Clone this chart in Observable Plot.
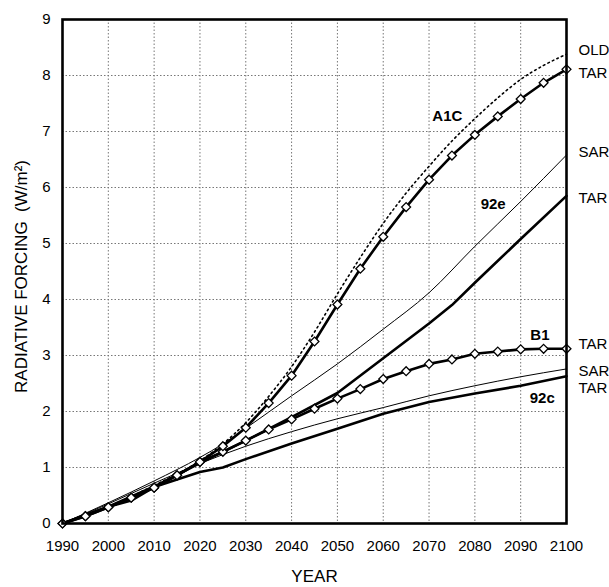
<!DOCTYPE html>
<html>
<head>
<meta charset="utf-8">
<script src="https://cdn.jsdelivr.net/npm/d3@7"></script>
<script src="https://cdn.jsdelivr.net/npm/@observablehq/plot@0.6"></script>
<style>
  html, body { margin: 0; padding: 0; background: #fff; }
  svg { display: block; }
</style>
</head>
<body>
<div id="chart"></div>
<script>
// ---- data ----
const years5 = [1990,1995,2000,2005,2010,2015,2020,2025,2030,2035,2040,2045,2050,2055,2060,2065,2070,2075,2080,2085,2090,2095,2100];
const a1cTar = [0,0.13,0.29,0.46,0.64,0.86,1.1,1.38,1.71,2.15,2.64,3.25,3.91,4.55,5.12,5.65,6.14,6.57,6.94,7.27,7.58,7.87,8.11];
const b1Tar  = [0,0.13,0.29,0.46,0.64,0.86,1.1,1.28,1.48,1.68,1.86,2.05,2.23,2.4,2.58,2.72,2.85,2.93,3.03,3.07,3.11,3.12,3.12];

const oldYears = [1990,2000,2010,2020,2025,2030,2035,2040,2045,2050,2055,2060,2065,2070,2075,2080,2085,2090,2095,2100];
const a1cOld   = [0,0.3,0.68,1.12,1.42,1.8,2.27,2.8,3.42,4.1,4.75,5.36,5.9,6.38,6.83,7.23,7.6,7.93,8.18,8.38];

const e92SarYears = [1990,2000,2010,2020,2025,2030,2040,2050,2060,2070,2080,2090,2100];
const e92Sar      = [0,0.37,0.76,1.18,1.42,1.7,2.28,2.85,3.47,4.12,4.95,5.75,6.58];

const e92TarYears = [1990,2000,2010,2020,2030,2040,2050,2060,2070,2075,2080,2090,2100];
const e92Tar      = [0,0.3,0.66,1.08,1.48,1.9,2.33,2.95,3.57,3.9,4.3,5.08,5.85];

const c92SarYears = [1990,2000,2010,2020,2030,2040,2050,2060,2070,2080,2090,2100];
const c92Sar      = [0,0.35,0.72,1.07,1.38,1.64,1.87,2.07,2.28,2.46,2.62,2.76];

const c92TarYears = [1990,2000,2005,2010,2020,2025,2030,2040,2050,2060,2070,2080,2090,2100];
const c92Tar      = [0,0.3,0.41,0.65,0.92,1.0,1.15,1.43,1.69,1.96,2.17,2.32,2.46,2.63];

const xTicks = [1990,2000,2010,2020,2030,2040,2050,2060,2070,2080,2090,2100];
const yTicks = [0,1,2,3,4,5,6,7,8,9];

const curveNames  = ["A1C", "92e", "B1", "92c"];
const curveLabelX = [2074, 2084, 2094.2, 2094.7];
const curveLabelY = [7.27, 5.7, 3.37, 2.23];

const edgeNames  = ["OLD", "TAR", "SAR", "TAR", "TAR", "SAR", "TAR"];
const edgeValues = [8.46, 8.05, 6.63, 5.81, 3.21, 2.72, 2.42];

const xTitle = "YEAR";
const yTitle = "RADIATIVE FORCING\u00a0\u00a0(W/m\u00b2)";

// ---- build tables ----
const zip = (xs, ys) => xs.map((x, i) => ({x, y: ys[i]}));
const A1C = zip(years5, a1cTar);
const B1 = zip(years5, b1Tar);
const OLD = zip(oldYears, a1cOld);
const E92S = zip(e92SarYears, e92Sar);
const E92T = zip(e92TarYears, e92Tar);
const C92S = zip(c92SarYears, c92Sar);
const C92T = zip(c92TarYears, c92Tar);
const curveLabels = curveNames.map((t, i) => ({t, x: curveLabelX[i], y: curveLabelY[i]}));
const edgeLabels = edgeNames.map((t, i) => ({t, y: edgeValues[i]}));

const font = "'Liberation Sans', Arial, Helvetica, sans-serif";

const chart = Plot.plot({
  width: 609,
  height: 587,
  marginLeft: 62,
  marginRight: 43,
  marginTop: 19,
  marginBottom: 64,
  style: {fontFamily: font, fontSize: "15px", color: "#000", background: "#fff"},
  x: {domain: [1990, 2100]},
  y: {domain: [0, 9]},
  marks: [
    Plot.gridX(xTicks, {stroke: "#777", strokeOpacity: 1, strokeWidth: 1, strokeDasharray: "1.5,2"}),
    Plot.gridY(yTicks, {stroke: "#777", strokeOpacity: 1, strokeWidth: 1, strokeDasharray: "1.5,2"}),
    Plot.line(E92S, {x: "x", y: "y", stroke: "#000", strokeWidth: 1, curve: "monotone-x"}),
    Plot.line(C92S, {x: "x", y: "y", stroke: "#000", strokeWidth: 1, curve: "monotone-x"}),
    Plot.line(E92T, {x: "x", y: "y", stroke: "#000", strokeWidth: 2.6, curve: "linear"}),
    Plot.line(C92T, {x: "x", y: "y", stroke: "#000", strokeWidth: 2.6, curve: "linear"}),
    Plot.line(OLD, {x: "x", y: "y", stroke: "#000", strokeWidth: 1.6, strokeDasharray: "1.6,3.4", curve: "monotone-x"}),
    Plot.line(B1, {x: "x", y: "y", stroke: "#000", strokeWidth: 2.6}),
    Plot.line(A1C, {x: "x", y: "y", stroke: "#000", strokeWidth: 2.6}),
    Plot.dot(B1, {x: "x", y: "y", symbol: "diamond2", r: 4, fill: "#fff", stroke: "#000", strokeWidth: 1.3}),
    Plot.dot(A1C, {x: "x", y: "y", symbol: "diamond2", r: 4, fill: "#fff", stroke: "#000", strokeWidth: 1.3}),
    Plot.frame({stroke: "#000", strokeWidth: 2.6}),
    Plot.text(curveLabels, {x: "x", y: "y", text: "t", fontWeight: "bold", fontSize: 15, fill: "#000"}),
    Plot.text(edgeLabels, {x: () => 2100, y: "y", text: "t", textAnchor: "start", dx: 12, fontSize: 15, fill: "#000", clip: false}),
    Plot.axisX(xTicks, {tickSize: 0, tickPadding: 17, tickFormat: d => String(d), label: null, fontSize: 15}),
    Plot.axisY(yTicks, {tickSize: 0, tickPadding: 12, tickFormat: d => String(d), label: null, fontSize: 15}),
    Plot.text([xTitle], {frameAnchor: "bottom", dy: 53, lineAnchor: "middle", fontSize: 17, fill: "#000"}),
    Plot.text([yTitle], {frameAnchor: "left", dx: -41, dy: 5, rotate: -90, lineAnchor: "middle", textAnchor: "middle", fontSize: 17, fill: "#000"})
  ]
});
document.getElementById("chart").appendChild(chart);
</script>
</body>
</html>
